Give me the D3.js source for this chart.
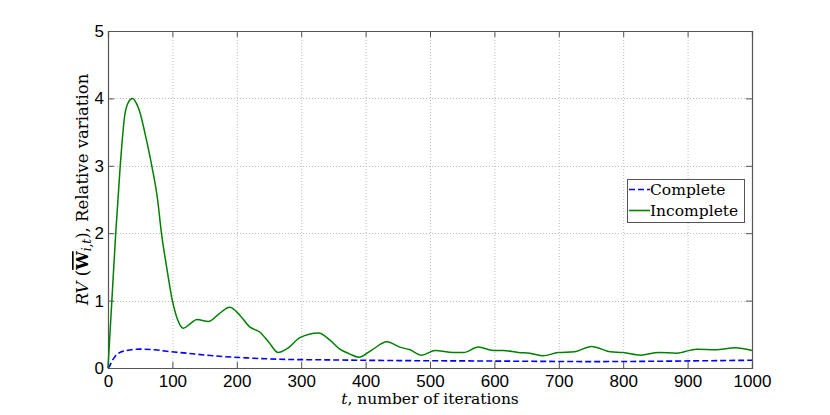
<!DOCTYPE html>
<html><head><meta charset="utf-8">
<script src="https://cdn.jsdelivr.net/npm/d3@7/dist/d3.min.js"></script>
<style>
html,body{margin:0;padding:0;background:#fff;}
svg{display:block;}
</style></head>
<body>
<svg id="chart" width="830" height="415"></svg>
<script>
// ---- data ----
const incompleteT = [0,6,12,19,26,32,38,44,50,57,68,77,83,91,100,108,117,128,138,156,172,189,205,220,236,250,264,280,298,327,345,360,375,389,410,433,453,469,487,508,536,552,575,598,614,637,655,676,699,724,751,780,800,827,855,883,914,944,974,1000];
const incompleteV = [0,1.0,2.0,3.0,3.75,3.95,4.0,3.93,3.78,3.5,3.0,2.5,2.0,1.5,1.0,0.72,0.59,0.66,0.72,0.69,0.8,0.9,0.78,0.61,0.53,0.38,0.23,0.3,0.45,0.52,0.41,0.28,0.21,0.16,0.27,0.39,0.31,0.27,0.19,0.26,0.23,0.23,0.31,0.26,0.26,0.23,0.22,0.18,0.23,0.24,0.32,0.24,0.23,0.19,0.23,0.22,0.28,0.27,0.30,0.26];
const completeT = [0,2,6,11,24,50,73,99,122,153,179,215,267,345,450,560,650,750,850,950,1000];
const completeV = [0,0.02,0.1,0.17,0.25,0.28,0.27,0.24,0.22,0.19,0.17,0.15,0.13,0.12,0.11,0.105,0.10,0.095,0.10,0.11,0.115];
const xTicks = [0,100,200,300,400,500,600,700,800,900,1000];
const yTicks = [0,1,2,3,4,5];
const seriesNames = ["Complete","Incomplete"];

// ---- layout ----
const L = 108, R = 752, T = 31, B = 368;
const svg = d3.select("#chart");
const x = d3.scaleLinear().domain([0,1000]).range([L,R]);
const y = d3.scaleLinear().domain([0,5]).range([B,T]);
const axisCol = "#555";

// grid
const grid = svg.append("g");
grid.selectAll(".gx").data(xTicks.slice(1,-1)).enter().append("line")
  .attr("x1",d=>x(d)+0.5).attr("x2",d=>x(d)+0.5).attr("y1",T).attr("y2",B)
  .attr("stroke","#bdbdbd").attr("stroke-width",1).attr("stroke-dasharray","1,2");
grid.selectAll(".gy").data(yTicks.slice(1,-1)).enter().append("line")
  .attr("y1",d=>Math.round(y(d))+0.5).attr("y2",d=>Math.round(y(d))+0.5).attr("x1",L).attr("x2",R)
  .attr("stroke","#bdbdbd").attr("stroke-width",1).attr("stroke-dasharray","1,2");

// axes
const fontTick = "'Liberation Sans', Arial, sans-serif";
const gx = svg.append("g").attr("transform",`translate(0,${B})`)
  .call(d3.axisBottom(x).tickValues(xTicks).tickSize(-6).tickPadding(7).tickFormat(d3.format("d")));
const gxTop = svg.append("g").attr("transform",`translate(0,${T})`)
  .call(d3.axisTop(x).tickValues(xTicks).tickSize(-6).tickFormat(""));
const gy = svg.append("g").attr("transform",`translate(${L},0)`)
  .call(d3.axisLeft(y).tickValues(yTicks).tickSize(-6).tickPadding(4).tickFormat(d3.format("d")));
const gyR = svg.append("g").attr("transform",`translate(${R},0)`)
  .call(d3.axisRight(y).tickValues(yTicks).tickSize(-6).tickFormat(""));
[gx,gxTop,gy,gyR].forEach(g=>{
  g.select(".domain").attr("stroke",axisCol).attr("stroke-width",1.2);
  g.selectAll(".tick line").attr("stroke",axisCol).attr("stroke-width",1);
  g.selectAll(".tick text").attr("font-family",fontTick).attr("font-size",17).attr("fill","#000");
});

// lines
const line = d3.line().curve(d3.curveMonotoneX).x(d=>x(d[0])).y(d=>y(d[1]));
const incData = incompleteT.map((t,i)=>[t,incompleteV[i]]);
const comData = completeT.map((t,i)=>[t,completeV[i]]);
svg.append("path").datum(comData).attr("d",line).attr("fill","none")
  .attr("stroke","#0000ff").attr("stroke-width",1.6).attr("stroke-dasharray","6,3");
svg.append("path").datum(incData).attr("d",line).attr("fill","none")
  .attr("stroke","#008000").attr("stroke-width",1.5);

// labels
const serif = "'DejaVu Serif', 'Liberation Serif', serif";
const xl = svg.append("text").attr("x",(L+R)/2).attr("y",404).attr("text-anchor","middle")
  .attr("font-family",serif).attr("font-size",15.5).attr("fill","#000");
xl.append("tspan").attr("font-style","italic").text("t");
xl.append("tspan").text(", number of iterations");

const yl = svg.append("text").attr("transform",`translate(88,${(T+B)/2 - 10}) rotate(-90)`)
  .attr("text-anchor","middle").attr("font-family",serif).attr("font-size",16.5).attr("fill","#000");
yl.append("tspan").attr("font-style","italic").text("RV");
yl.append("tspan").text(" (");
yl.append("tspan").attr("font-weight","bold").attr("text-decoration","overline").text("W");
yl.append("tspan").attr("font-style","italic").attr("font-size",12).attr("baseline-shift","-25%").text("i,t");
yl.append("tspan").text("), Relative variation");

// legend
const lg = svg.append("g");
lg.append("rect").attr("x",627.5).attr("y",179.5).attr("width",117).attr("height",43)
  .attr("fill","#fff").attr("stroke",axisCol).attr("stroke-width",1);
const legColors = ["#0000ff","#008000"];
const legDash = ["6,3",null];
seriesNames.forEach((n,i)=>{
  const yy = 189.5 + i*21;
  lg.append("line").attr("x1",629).attr("x2",650).attr("y1",yy).attr("y2",yy)
    .attr("stroke",legColors[i]).attr("stroke-width",1.6).attr("stroke-dasharray",legDash[i]);
  lg.append("text").attr("x",650).attr("y",yy+5.5).attr("font-family",serif).attr("font-size",15.5)
    .attr("fill","#000").text(n);
});
</script>
</body></html>
